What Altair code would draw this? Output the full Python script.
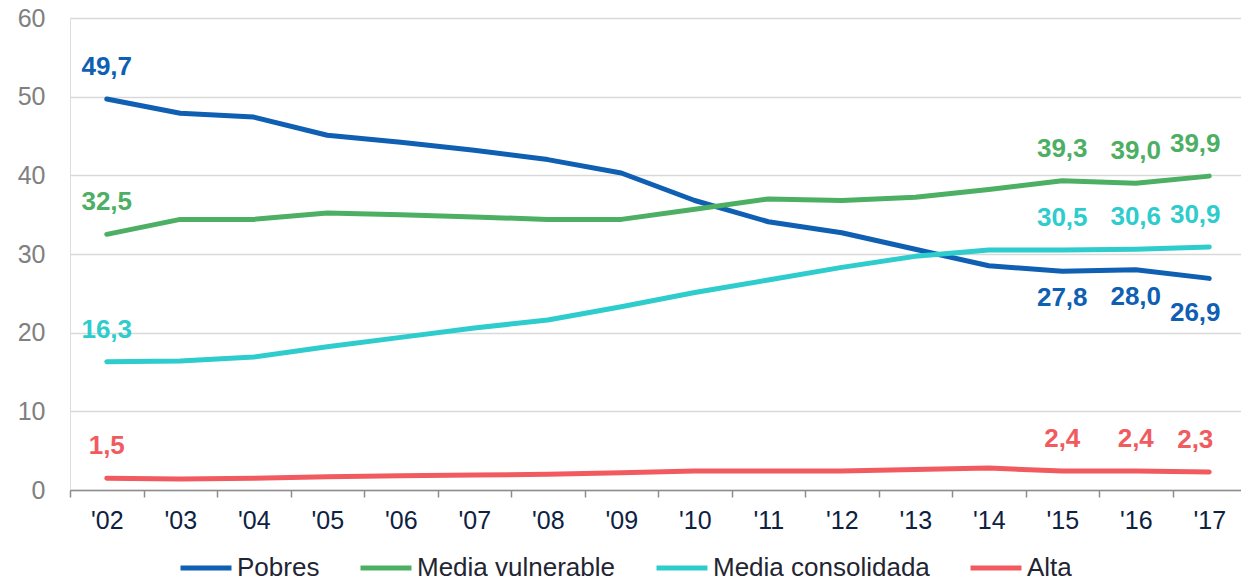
import altair as alt
import pandas as pd

# Años de la serie (eje X) y porcentaje de población por clase social
anios = ["02", "03", "04", "05", "06", "07", "08", "09",
         "10", "11", "12", "13", "14", "15", "16", "17"]
grupos = ["Pobres", "Media vulnerable", "Media consolidada", "Alta"]
colores = ["#0f5fb3", "#4caf63", "#2ecccc", "#f15b60"]

pobres = [49.7, 47.9, 47.4, 45.1, 44.2, 43.2, 42.0, 40.3,
          36.8, 34.1, 32.7, 30.6, 28.5, 27.8, 28.0, 26.9]
media_vulnerable = [32.5, 34.4, 34.4, 35.2, 35.0, 34.7, 34.4, 34.4,
                    35.7, 37.0, 36.8, 37.2, 38.2, 39.3, 39.0, 39.9]
media_consolidada = [16.3, 16.4, 16.9, 18.2, 19.4, 20.6, 21.6, 23.3,
                     25.1, 26.7, 28.3, 29.7, 30.5, 30.5, 30.6, 30.9]
alta = [1.5, 1.4, 1.5, 1.7, 1.8, 1.9, 2.0, 2.2,
        2.4, 2.4, 2.4, 2.6, 2.8, 2.4, 2.4, 2.3]

etiquetas_x = ["'" + a for a in anios]

filas = []
for grupo, valores in zip(grupos, [pobres, media_vulnerable, media_consolidada, alta]):
    for anio, valor in zip(etiquetas_x, valores):
        filas.append({"anio": anio, "grupo": grupo, "valor": valor})
datos = pd.DataFrame(filas)

FUENTE = "Liberation Sans"

x = alt.X(
    "anio:N",
    sort=etiquetas_x,
    scale=alt.Scale(type="band", range=[0, 1176], paddingInner=0, paddingOuter=0),
    axis=alt.Axis(
        title=None, labelAngle=0, tickBand="extent", grid=False,
        domainColor="#8c8c8c", domainWidth=1.5, tickColor="#8c8c8c", tickWidth=1.5,
        tickSize=7, labelFontSize=25, labelColor="#0d2240", labelFont=FUENTE,
        labelPadding=11,
    ),
)
y = alt.Y(
    "valor:Q",
    scale=alt.Scale(domain=[0, 60], nice=False),
    axis=alt.Axis(
        title=None, values=[0, 10, 20, 30, 40, 50, 60], domain=False, ticks=False,
        grid=True, gridColor="#d9d9d9", gridWidth=1.3,
        labelFontSize=25, labelColor="#808080", labelFont=FUENTE, labelPadding=25,
    ),
)
color = alt.Color(
    "grupo:N",
    sort=grupos,
    scale=alt.Scale(domain=grupos, range=colores),
    legend=alt.Legend(
        title=None, orient="none", direction="horizontal", legendX=108, legendY=522,
        symbolType="stroke", symbolSize=2600, symbolStrokeWidth=5,
        labelFontSize=26, labelFont=FUENTE, labelColor="#1f2533", labelLimit=400,
        labelOffset=3, columnPadding=30,
    ),
)

base = alt.Chart(datos)

lineas = base.mark_line(strokeWidth=5, strokeCap="round", strokeJoin="round").encode(
    x=x, y=y, color=color
)

color_texto = alt.Color("grupo:N", scale=alt.Scale(domain=grupos, range=colores), legend=None)


def rotulos(filtro, dx, dy):
    return (
        base.transform_filter(filtro)
        .transform_calculate(texto="replace(format(datum.valor, '.1f'), '.', ',')")
        .mark_text(font=FUENTE, fontSize=26, fontWeight="bold", dx=dx, dy=dy, baseline="middle")
        .encode(x=x, y=y, color=color_texto, text="texto:N")
    )


arriba = rotulos(
    "indexof(['\\'02', '\\'15', '\\'16'], datum.anio) >= 0 && "
    "(datum.grupo != 'Pobres' || datum.anio == '\\'02')",
    0, -32,
)
arriba_final = rotulos("datum.anio == '\\'17' && datum.grupo != 'Pobres'", -14, -32)
abajo = rotulos(
    "(datum.anio == '\\'15' || datum.anio == '\\'16') && datum.grupo == 'Pobres'", 0, 27
)
abajo_final = rotulos("datum.anio == '\\'17' && datum.grupo == 'Pobres'", -14, 35)

chart = (
    alt.layer(lineas, arriba, arriba_final, abajo, abajo_final)
    .properties(
        width=1171, height=472,
        autosize=alt.AutoSizeParams(type="none"),
        padding={"left": 70, "top": 18, "right": 0, "bottom": 92},
    )
    .configure_view(stroke=None)
    .configure(background="white")
)

chart.save("out.html", embed_options={"renderer": "svg", "actions": False})
